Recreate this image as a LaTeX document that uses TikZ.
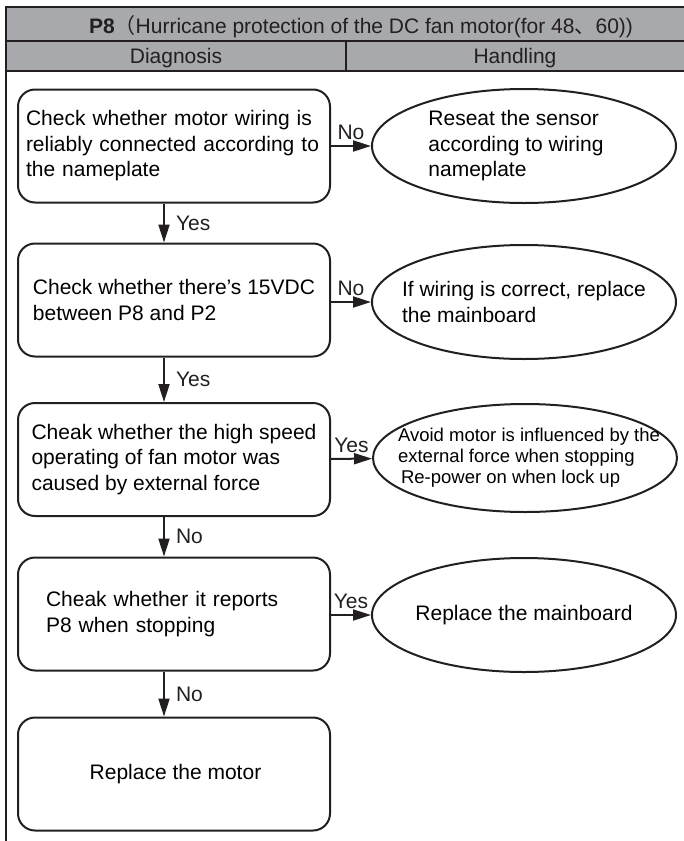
\documentclass[tikz,border=0pt]{standalone}
\usepackage{fontspec}
\setmainfont{Liberation Sans}
\newfontfamily\cjk{Noto Sans CJK SC}
\usetikzlibrary{shapes.geometric,arrows.meta}
\definecolor{hdrgray}{RGB}{167,169,172}
\definecolor{ink}{RGB}{35,31,32}

\begin{document}
\begin{tikzpicture}[x=1pt,y=-1pt,
		box/.style={draw=ink,line width=2pt,rounded corners=17pt,minimum width=312pt,minimum height=113pt,align=left,font=\fontsize{21}{25.5}\selectfont},
		oval/.style={ellipse,draw=ink,line width=2pt,minimum width=304pt,minimum height=114pt,inner xsep=-30pt,inner ysep=-8pt,align=left,font=\fontsize{21}{25.5}\selectfont},
		arr/.style={draw=ink,line width=2pt,-{Triangle[length=18pt,width=11pt]}},
		lbl/.style={font=\fontsize{21}{25}\selectfont,inner sep=2pt,text=ink},
		hdr/.style={font=\fontsize{21}{25}\selectfont,anchor=base,inner sep=0pt,text=ink}]
				\useasboundingbox (0,0) rectangle (683,841);
				% header
				\fill[hdrgray] (6,7) rectangle (685,71);
				\draw[ink,line width=2pt] (685,7) -- (6,7) -- (6,841);
				\draw[ink,line width=2pt] (6,41) -- (685,41);
				\draw[ink,line width=2pt] (6,71) -- (685,71);
				\draw[ink,line width=2pt] (346,41) -- (346,71);
				\node[hdr] (title) at (361,33){\textbf{P8}{\cjk （}Hurricane protection of the DC fan motor(for 48{\cjk 、}60))};
				\node[hdr] (diag) at (176,63){Diagnosis};
				\node[hdr] (hand) at (515,63){Handling};
				% diagnosis
				\node[box,inner xsep=8pt,text width=296pt] (chk1) at (174,146){Check whether motor wiring is\\reliably connected according to\\the nameplate};
				\node[box] (chk2) at (174,300){Check whether there’s 15VDC\\between P8 and P2};
				\node[box] (chk3) at (174,459.5){Cheak whether the high speed\\operating of fan motor was\\caused by external force};
				\node[box,inner xsep=28pt,text width=256pt] (chk4) at (174,614){Cheak whether it reports\\P8 when stopping\\[6pt]};
				\node[box,align=center] (motor) at (174,774){\hspace*{3pt}Replace the motor};
				% handling
				\node[oval] (fix1) at (524,146){Reseat the sensor\\according to wiring\rule{16pt}{0pt}\\nameplate};
				\node[oval] (fix2) at (524,302){If wiring is correct, replace\\the mainboard};
				\node[oval,minimum height=108pt,font=\fontsize{18.5}{21}\selectfont] (fix3) at (525,458){\hspace*{8pt}Avoid motor is influenced by the\\\hspace*{8pt}external force when stopping\\\hspace*{11pt}Re-power on when lock up};
				\node[oval] (fix4) at (524,615){Replace the mainboard};
				% arrows
				\draw[arr] (chk1) -- node[lbl,above=3pt]{No} (fix1);
				\draw[arr] (chk2.east |- fix2) -- node[lbl,above=3pt]{No} (fix2);
				\draw[arr] (chk3) -- node[lbl,above=3pt]{Yes} (fix3);
				\draw[arr] (chk4.east |- fix4) -- node[lbl,above=3pt]{Yes} (fix4);
				\draw[arr] ([xshift=-10pt]chk1.south) -- node[lbl,right=9pt]{Yes} ([xshift=-10pt]chk2.north);
				\draw[arr] ([xshift=-10pt]chk2.south) -- node[lbl,right=9pt]{Yes} ([xshift=-10pt]chk3.north);
				\draw[arr] ([xshift=-10pt]chk3.south) -- node[lbl,right=9pt]{No} ([xshift=-10pt]chk4.north);
				\draw[arr] ([xshift=-10pt]chk4.south) -- node[lbl,right=9pt]{No} ([xshift=-10pt]motor.north);
			\end{tikzpicture}
\end{document}
